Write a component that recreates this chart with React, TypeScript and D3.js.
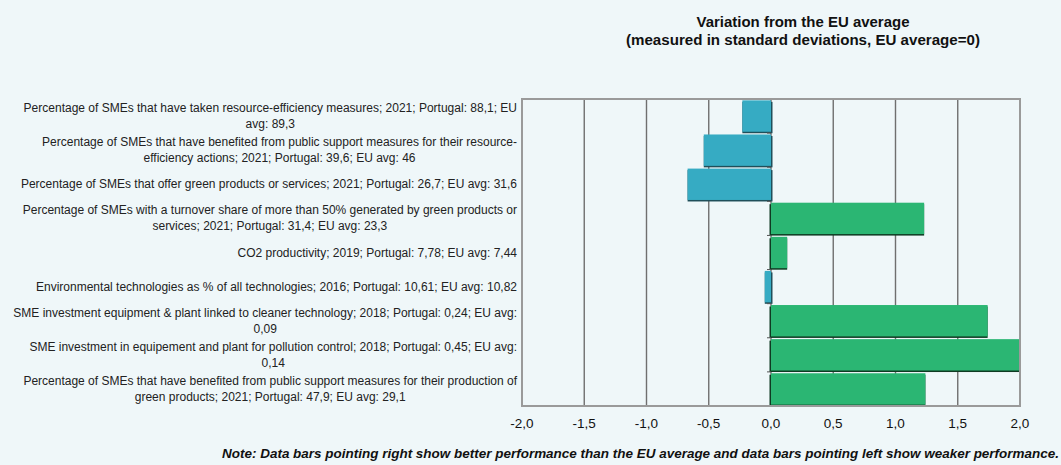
import React, { useEffect, useRef } from 'react';
import * as d3 from 'd3';

// indicator labels, already broken into lines as in the source
const labels: string[][] = [
  ['Percentage of SMEs that have taken resource-efficiency measures; 2021; Portugal: 88,1; EU', 'avg: 89,3'],
  ['Percentage of SMEs that have benefited from public support measures for their resource-', 'efficiency actions; 2021; Portugal: 39,6; EU avg: 46'],
  ['Percentage of SMEs that offer green products or services; 2021; Portugal: 26,7; EU avg: 31,6'],
  ['Percentage of SMEs with a turnover share of more than 50% generated by green products or', 'services; 2021; Portugal: 31,4; EU avg: 23,3'],
  ['CO2 productivity; 2019; Portugal: 7,78; EU avg: 7,44'],
  ['Environmental technologies as % of all technologies; 2016; Portugal: 10,61; EU avg: 10,82'],
  ['SME investment equipment & plant linked to cleaner technology; 2018; Portugal: 0,24; EU avg:', '0,09'],
  ['SME investment in equipement and plant for pollution control; 2018; Portugal: 0,45; EU avg:', '0,14'],
  ['Percentage of SMEs that have benefited from public support measures for their production of', 'green products; 2021; Portugal: 47,9; EU avg: 29,1'],
];

// deviation from EU average (std devs)
const values: number[] = [-0.23, -0.54, -0.67, 1.23, 0.13, -0.05, 1.74, 2.0, 1.24];

const xTicks: number[] = [-2, -1.5, -1, -0.5, 0, 0.5, 1, 1.5, 2];

const titleLines = ['Variation from the EU average', '(measured in standard deviations, EU average=0)'];
const note = 'Note: Data bars pointing right show better performance than the EU average and data bars pointing left show weaker performance.';

const W = 1061;
const H = 465;
const BG = '#eff7f9';
const FONT = '"Liberation Sans", Arial, sans-serif';

const App = () => {
  const svgRef = useRef<SVGSVGElement>(null);

  useEffect(() => {
    const svg = d3.select(svgRef.current);
    svg.selectAll('*').remove();

    const plot = { left: 522, right: 1020, top: 99, bottom: 406 };

    const x = d3.scaleLinear().domain([-2, 2]).range([plot.left, plot.right]);
    const y = d3.scaleBand<number>()
      .domain(d3.range(values.length))
      .range([plot.top, plot.bottom])
      .paddingInner(0.08)
      .paddingOuter(0.04);

    svg.append('rect').attr('width', W).attr('height', H).attr('fill', BG);

    // title
    const titleW = [213, 354];
    svg.append('g').selectAll('text').data(titleLines).join('text')
      .attr('x', 803)
      .attr('y', (d, i) => 27 + i * 17.5)
      .attr('text-anchor', 'middle')
      .attr('textLength', (d, i) => titleW[i])
      .attr('lengthAdjust', 'spacingAndGlyphs')
      .style('font-family', FONT)
      .style('font-weight', 'bold')
      .style('font-size', '14.5px')
      .attr('fill', '#111')
      .text(d => d);

    // gridlines
    svg.append('g').selectAll('line').data(xTicks).join('line')
      .attr('x1', d => x(d)).attr('x2', d => x(d))
      .attr('y1', plot.top).attr('y2', plot.bottom)
      .attr('stroke', '#6f6f6f')
      .attr('stroke-width', 1.4);

    // bars
    const bars = svg.append('g');
    values.forEach((v, i) => {
      const x0 = Math.min(x(0), x(v));
      const w = Math.abs(x(v) - x(0));
      const pos = v >= 0;
      bars.append('rect')
        .attr('x', x0 - (pos ? 1.5 : 0))
        .attr('y', y(i)! + 1.5)
        .attr('width', w + 1.5)
        .attr('height', y.bandwidth())
        .attr('fill', pos ? '#0f3a22' : '#1f4f5a');
      bars.append('rect')
        .attr('x', x0)
        .attr('y', y(i)!)
        .attr('width', w)
        .attr('height', y.bandwidth())
        .attr('fill', pos ? '#2bb673' : '#36abc3');
    });

    // category ticks on zero line
    svg.append('g').selectAll('line').data(d3.range(1, values.length)).join('line')
      .attr('x1', x(0) - 4).attr('x2', x(0))
      .attr('y1', i => plot.top + (i * (plot.bottom - plot.top)) / values.length)
      .attr('y2', i => plot.top + (i * (plot.bottom - plot.top)) / values.length)
      .attr('stroke', '#555');

    // frame
    svg.append('rect')
      .attr('x', plot.left).attr('y', plot.top)
      .attr('width', plot.right - plot.left).attr('height', plot.bottom - plot.top)
      .attr('fill', 'none')
      .attr('stroke', '#9a9a9a')
      .attr('stroke-width', 2);

    // x tick labels
    svg.append('g').selectAll('text').data(xTicks).join('text')
      .attr('x', d => x(d))
      .attr('y', 428)
      .attr('text-anchor', 'middle')
      .style('font-family', FONT)
      .style('font-size', '13.5px')
      .attr('fill', '#111')
      .text(d => d3.format('.1f')(d).replace('.', ',').replace('−', '-'));

    // category labels: centred block, right edge at 517
    const labelG = svg.append('g');
    labels.forEach((lines, i) => {
      const cy = y(i)! + y.bandwidth() / 2;
      const g = labelG.append('g');
      const texts = lines.map((ln, j) => g.append('text')
        .attr('y', cy + (j - (lines.length - 1) / 2) * 16 + 4)
        .attr('text-anchor', 'middle')
        .style('font-family', FONT)
        .style('font-size', '12px')
        .attr('fill', '#222')
        .text(ln));
      const maxW = d3.max(texts, t => (t.node() as SVGTextElement).getComputedTextLength()) || 0;
      texts.forEach(t => t.attr('x', 517 - maxW / 2));
    });

    // note
    svg.append('text')
      .attr('x', 1059)
      .attr('y', 458)
      .attr('text-anchor', 'end')
      .attr('textLength', 837)
      .attr('lengthAdjust', 'spacingAndGlyphs')
      .style('font-family', FONT)
      .style('font-weight', 'bold')
      .style('font-style', 'italic')
      .style('font-size', '13px')
      .attr('fill', '#111')
      .text(note);
  }, []);

  return (
    <svg
      ref={svgRef}
      width={W}
      height={H}
      style={{ position: 'absolute', left: 0, top: 0, display: 'block' }}
    />
  );
};

export default App;
